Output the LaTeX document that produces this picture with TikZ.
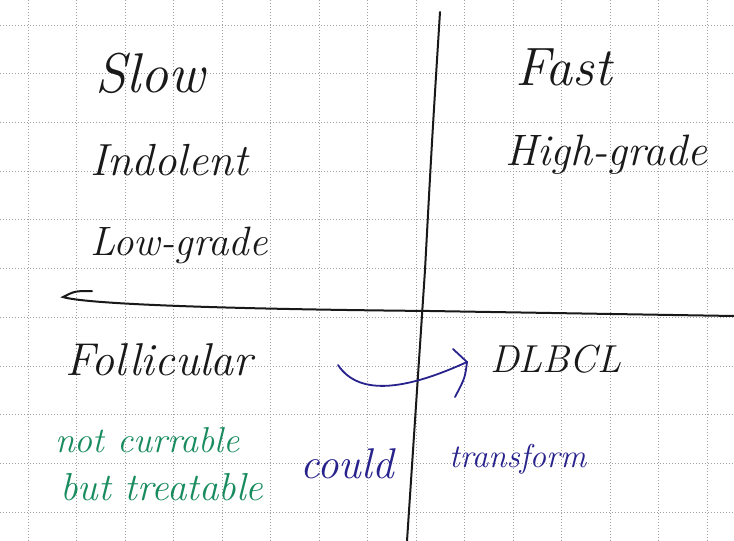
\documentclass[tikz,border=0pt]{standalone}
\usepackage{tikz}
\usepackage{xcolor}
\usetikzlibrary{positioning}
\definecolor{inkblack}{RGB}{25,25,25}
\definecolor{inkgreen}{RGB}{25,140,95}
\definecolor{inkblue}{RGB}{40,35,140}
\definecolor{gridgray}{RGB}{160,160,160}

\begin{document}
\begin{tikzpicture}[x=1pt, y=-1pt,
        hand/.style={anchor=base west, inner sep=0pt, text=inkblack, font=\itshape\fontsize{#1}{#1}\selectfont},
        greennote/.style={hand=#1, text=inkgreen},
        bluenote/.style={hand=#1, text=inkblue},
        gridline/.style={gridgray, line width=0.7pt, dash pattern=on 1.2pt off 1.8pt},
        axis/.style={inkblack, line width=2pt, line cap=round},
        bluearrow/.style={inkblue, line width=1.8pt, line cap=round}
    ]
        \useasboundingbox[fill=white] (0,0) rectangle (734,541);

        % Grid paper
        \foreach \k in {0,...,10}
            \draw[gridline] (0,25+48.7*\k) -- (734,25+48.7*\k);
        \foreach \k in {0,...,14}
            \draw[gridline] (28+48.5*\k,0) -- (28+48.5*\k,541);

        % Axes
        \draw[axis] (440,12) .. controls (432,140) .. (425,270) -- (407,541);
        \draw[axis] (92,291) .. controls (75,291) .. (63,297)
            .. controls (85,304) and (220,309) .. (430,311) -- (734,316);

        % Upper left
        \node[hand=56] (slow) at (95,92) {Slow};
        \node[hand=45] (indolent) at (90,175) {Indolent};
        \node[hand=41] (lowgrade) at (90,255) {Low-grade};

        % Upper right
        \node[hand=54] (fast) at (515,85) {Fast};
        \node[hand=44] (highgrade) at (505,165) {High-grade};

        % Lower left
        \node[hand=46] (foll) at (65,375) {Follicular};
        \node[greennote=36] (notcur) at (55,452) {not currable};
        \node[greennote=39] (buttreat) at (60,500) {but treatable};

        % Lower right
        \node[hand=39] (dlbcl) at (490,372) {DLBCL};

        % Transformation
        \node[bluenote=43] (could) at (300,478) {could};
        \node[bluenote=33] (transf) at (449,467) {transform};
        \coordinate (tail) at (338,365);
        \coordinate (tip) at (467,362);
        \draw[bluearrow] (tail) .. controls (360,398) and (410,388) .. (tip);
        \draw[bluearrow] (tip) ++(-14,-13) -- (tip) .. controls (465,378) .. ++(-12,35);
    \end{tikzpicture}
\end{document}
